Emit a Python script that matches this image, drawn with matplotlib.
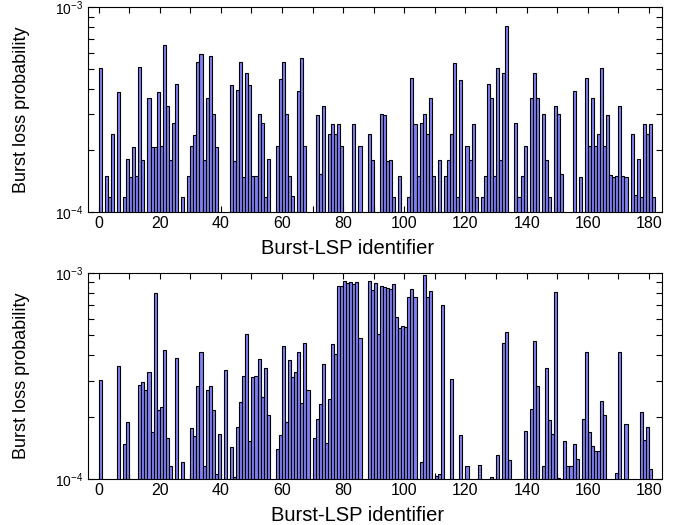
import numpy as np
import matplotlib
matplotlib.use("Agg")
import matplotlib.pyplot as plt
from matplotlib.ticker import MultipleLocator, LogLocator, NullFormatter

plt.rcParams['font.family'] = ['Liberation Sans', 'DejaVu Sans']
plt.rcParams['mathtext.default'] = 'regular'

# burst-LSP identifiers 0..181
lsp_ids = np.arange(182)

# burst loss probability, in units of 1e-4 (0 = below 1e-4, no visible bar)
top_loss = [
    5.08, 0, 1.50, 1.19, 2.41, 0, 3.88, 0, 1.19, 1.82,
    1.48, 2.07, 1.50, 5.10, 1.80, 0, 3.62, 2.09, 2.08, 3.88,
    2.10, 6.58, 3.31, 1.80, 2.72, 4.21, 0, 1.19, 0, 1.50,
    2.10, 2.37, 5.42, 5.95, 1.80, 3.61, 5.78, 3.00, 2.09, 0,
    0, 0, 0, 4.18, 1.78, 3.93, 5.40, 1.49, 4.80, 4.18,
    1.50, 1.50, 3.00, 2.71, 1.19, 1.82, 0, 0, 2.10, 4.47,
    5.42, 3.00, 1.50, 1.20, 0, 3.91, 5.67, 2.11, 0, 0,
    0, 2.97, 1.53, 3.31, 0, 2.40, 2.70, 2.40, 2.70, 2.11,
    0, 0, 0, 2.68, 0, 2.10, 0, 0, 2.42, 1.80,
    0, 0, 3.00, 2.97, 1.78, 1.80, 1.19, 0, 1.50, 0,
    0, 1.19, 4.51, 2.70, 1.50, 2.72, 3.02, 2.40, 3.61, 1.50,
    0, 1.80, 0, 1.50, 1.80, 2.40, 5.32, 1.19, 4.44, 0,
    2.10, 1.80, 2.68, 1.19, 0, 1.19, 1.50, 4.21, 3.61, 1.50,
    5.08, 1.80, 4.80, 8.09, 0, 0, 2.71, 1.19, 1.50, 2.11,
    0, 3.61, 4.78, 3.61, 0, 3.00, 1.80, 1.19, 0, 3.28,
    3.00, 1.53, 0, 0, 0, 3.91, 0, 1.49, 0, 4.51,
    2.10, 3.61, 2.10, 2.42, 5.08, 2.10, 2.97, 1.52, 1.49, 1.50,
    3.30, 1.50, 1.48, 0, 2.40, 1.21, 1.81, 1.19, 2.68, 2.42,
    2.68, 1.19,
]

bottom_loss = [
    3.01, 0, 0, 0, 0, 0, 3.52, 0, 1.48, 1.88,
    0, 0, 0, 2.85, 2.95, 2.69, 3.29, 1.69, 7.98, 2.17,
    2.24, 4.21, 1.57, 1.15, 0, 3.85, 0, 1.21, 0, 0,
    1.77, 1.61, 2.81, 4.12, 1.15, 2.71, 2.81, 2.16, 1.05, 1.66,
    0, 3.36, 0, 1.43, 1.015, 1.79, 2.35, 3.15, 5.08, 1.53,
    3.11, 3.15, 3.81, 2.51, 3.44, 2.05, 0, 0, 1.39, 1.64,
    4.41, 1.89, 3.76, 3.13, 3.31, 4.15, 2.33, 4.56, 2.71, 0,
    1.57, 1.95, 2.30, 3.62, 1.50, 2.44, 4.51, 4.06, 8.61, 8.67,
    9.10, 8.91, 9.04, 8.84, 9.00, 4.82, 0, 0, 9.10, 8.26,
    8.97, 5.04, 8.61, 8.51, 8.45, 8.33, 8.84, 6.08, 5.43, 5.50,
    5.47, 7.61, 8.39, 7.61, 0, 1.21, 9.75, 7.67, 8.14, 0,
    1.03, 1.05, 7.01, 0, 0, 3.05, 0, 0, 1.64, 0,
    1.16, 0, 0, 0, 1.17, 0, 0, 0, 1.02, 0,
    1.30, 0, 4.57, 5.15, 1.23, 0, 0, 0, 0, 1.70,
    0, 2.18, 4.69, 2.83, 0, 1.15, 3.47, 1.92, 1.66, 8.05,
    1.01, 0, 1.53, 1.15, 1.15, 1.48, 1.25, 0, 1.95, 4.12,
    1.69, 1.45, 1.37, 1.36, 2.38, 2.04, 0, 0, 0, 1.07,
    4.12, 0, 1.85, 0, 0, 0, 0, 2.11, 1.54, 1.78,
    1.12, 0,
]

bar_color = '#8080f2'
base = 1e-6

fig = plt.figure(figsize=(6.78, 5.25), dpi=100)
ax_top = fig.add_axes([0.130, 0.596, 0.847, 0.390])
ax_bot = fig.add_axes([0.130, 0.088, 0.847, 0.392])

for ax, loss, xlab_x in [(ax_top, top_loss, 0.452), (ax_bot, bottom_loss, 0.47)]:
    vals = np.array(loss) * 1e-4
    keep = vals > 0
    ax.bar(lsp_ids[keep], vals[keep] - base, bottom=base, width=1.0,
           align='edge', color=bar_color, edgecolor='black', linewidth=0.8)
    ax.set_yscale('log')
    ax.set_ylim(1e-4, 1e-3)
    ax.set_xlim(-3.4, 184.4)
    ax.xaxis.set_major_locator(MultipleLocator(20))
    ax.xaxis.set_minor_locator(MultipleLocator(10))
    ax.yaxis.set_major_locator(LogLocator(base=10))
    ax.yaxis.set_minor_locator(LogLocator(base=10, subs=np.arange(2, 10)))
    ax.yaxis.set_minor_formatter(NullFormatter())
    ax.tick_params(which='both', direction='in', top=True, right=True,
                   length=4, width=0.8, labelsize=10)
    ax.tick_params(axis='x', labelsize=11.5, pad=3)
    for s in ax.spines.values():
        s.set_linewidth(0.8)
    ax.set_xlabel('Burst-LSP identifier', fontsize=14.5)
    ax.xaxis.set_label_coords(xlab_x, -0.13)
    ax.set_ylabel('Burst loss probability', fontsize=13)
    ax.yaxis.set_label_coords(-0.102, 0.5)

fig.savefig('out.png', dpi=100)
